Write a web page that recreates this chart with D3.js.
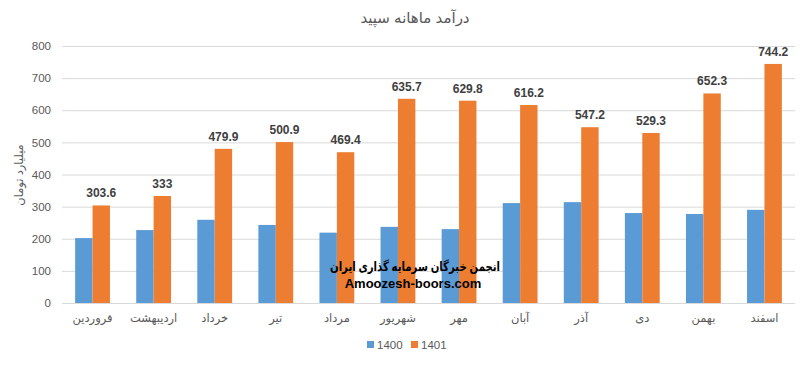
<!DOCTYPE html>
<html><head><meta charset="utf-8">
<script src="https://cdn.jsdelivr.net/npm/d3@7"></script>
<style>body{margin:0;background:#fff}svg{display:block}</style>
</head><body>
<svg id="c" width="808" height="366"></svg>
<script>
const months = ["فروردین","اردیبهشت","خرداد","تیر","مرداد","شهریور","مهر","آبان","آذر","دی","بهمن","اسفند"];
const series = ["1400","1401"];
const values1400 = [202,227,259,243,219,237,230,311,314,280,277,290];
const values1401 = [303.6,333,479.9,500.9,469.4,635.7,629.8,616.2,547.2,529.3,652.3,744.2];
const yTicks = [0,100,200,300,400,500,600,700,800];
const colors = ["#5B9BD5","#ED7D31"];
const FONT = "'Liberation Sans','DejaVu Sans',sans-serif";

const svg = d3.select("#c");
const m = {left:62, right:13, top:46, bottom:63};
const W = 808, H = 366;
const x = d3.scaleBand().domain(months).range([m.left, W-m.right]).paddingInner(0.43).paddingOuter(0.215);
const x1 = d3.scaleBand().domain(series).range([0, x.bandwidth()]);
const y = d3.scaleLinear().domain([0,800]).range([H-m.bottom, m.top]);

// gridlines
svg.append("g").selectAll("line").data(yTicks.filter(d=>d>0)).join("line")
  .attr("x1", m.left).attr("x2", W-m.right)
  .attr("y1", d=>y(d)+0.5).attr("y2", d=>y(d)+0.5)
  .attr("stroke","#D9D9D9").attr("stroke-width",1);

// y labels
const ya = svg.append("g").attr("transform",`translate(${m.left-11},0)`)
  .call(d3.axisLeft(y).tickValues(yTicks).tickSize(0).tickPadding(0));
ya.select(".domain").remove();
ya.selectAll("text").attr("fill","#595959").style("font-family",FONT).style("font-size","11.5px");

// bars
const data = months.map((mo,i)=>({mo, vals:[values1400[i], values1401[i]]}));
const g = svg.append("g").selectAll("g").data(data).join("g")
  .attr("transform", d=>`translate(${x(d.mo)},0)`);
g.selectAll("rect").data(d=>d.vals.map((v,j)=>({s:series[j], v, j}))).join("rect")
  .attr("x", d=>x1(d.s)).attr("width", x1.bandwidth())
  .attr("y", d=>y(d.v)).attr("height", d=>y(0)-y(d.v))
  .attr("fill", d=>colors[d.j]);
// data labels
g.append("text")
  .attr("x", x1("1401")+x1.bandwidth()/2)
  .attr("y", d=>y(d.vals[1])-8)
  .attr("text-anchor","middle")
  .attr("fill","#404040").style("font-family",FONT).style("font-size","12px").style("font-weight","bold")
  .text(d=>d.vals[1]);

// x axis line
svg.append("line").attr("x1",m.left).attr("x2",W-m.right)
  .attr("y1",y(0)+0.5).attr("y2",y(0)+0.5).attr("stroke","#D9D9D9");

// x labels
const xa = svg.append("g").attr("transform",`translate(0,${y(0)})`)
  .call(d3.axisBottom(x).tickSize(0).tickPadding(11));
xa.select(".domain").remove();
xa.selectAll("text").attr("fill","#595959").style("font-family",FONT).style("font-size","11.5px");

// title
svg.append("text").attr("x",415).attr("y",23).attr("text-anchor","middle")
  .attr("fill","#595959").style("font-family",FONT).style("font-size","15px").text("درآمد ماهانه سپید");

// y axis title
svg.append("text").attr("transform","translate(23,175) rotate(-90)").attr("text-anchor","middle")
  .attr("fill","#595959").style("font-family",FONT).style("font-size","11.5px").text("میلیارد تومان");

// legend
const lg = svg.append("g").selectAll("g").data(series).join("g")
  .attr("transform",(d,i)=>`translate(367,340)`)
  .attr("transform",(d,i)=>`translate(${367+i*44},340)`);
lg.append("rect").attr("width",7).attr("height",7).attr("y",1).attr("fill",(d,i)=>colors[i]);
lg.append("text").attr("x",10).attr("y",9).attr("fill","#595959")
  .style("font-family",FONT).style("font-size","11.5px").text(d=>d);

// watermark
svg.append("text").attr("x",330).attr("y",271)
  .attr("textLength",170).attr("lengthAdjust","spacingAndGlyphs")
  .attr("fill","#000").style("font-family",FONT).style("font-size","13px").style("font-weight","bold")
  .text("انجمن خبرگان سرمایه گذاری ایران");
svg.append("text").attr("x",413).attr("y",288).attr("text-anchor","middle")
  .attr("fill","#000").style("font-family",FONT).style("font-size","13px").style("font-weight","bold")
  .text("Amoozesh-boors.com");
</script>
</body></html>
